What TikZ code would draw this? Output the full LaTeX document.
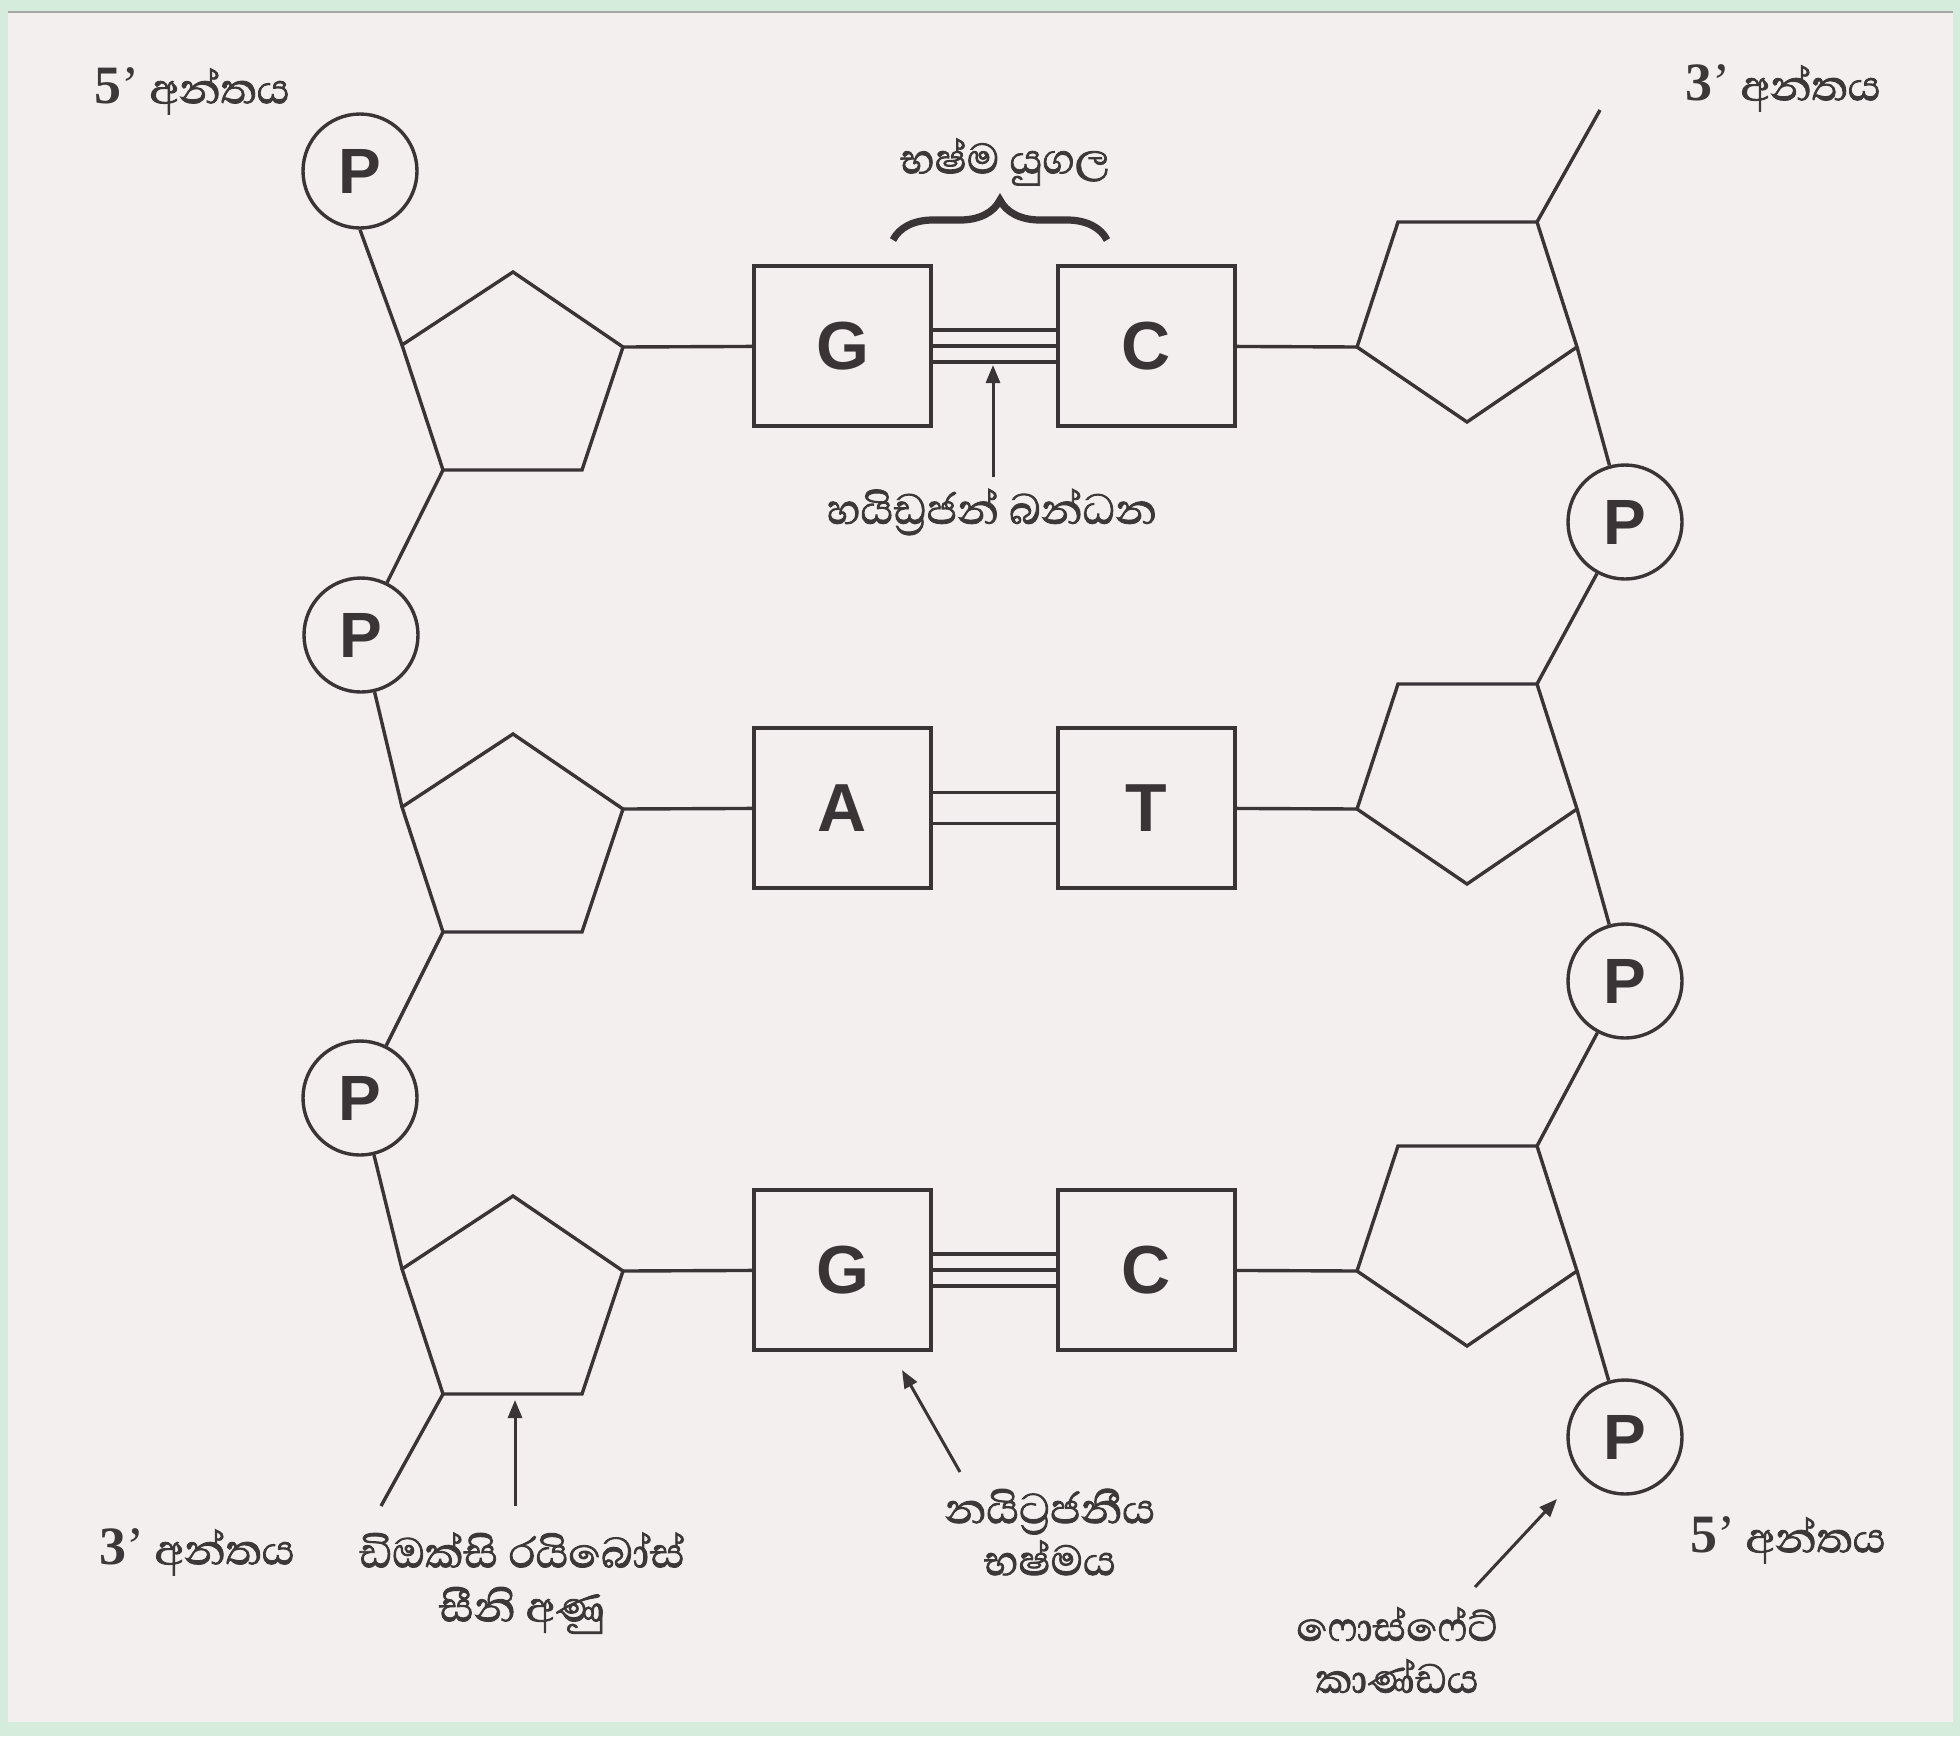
\documentclass[tikz,border=0pt]{standalone}
\usepackage{fontspec}
\setmainfont{Liberation Sans}
\newfontfamily\sinfont[Script=Sinhala, FakeBold=1.6]{Abhaya Libre}
\newfontfamily\numfont{Liberation Serif}
\usetikzlibrary{arrows.meta,decorations.pathreplacing}
\definecolor{ink}{HTML}{3A3436}
\definecolor{txt}{HTML}{3C3738}
\definecolor{paper}{HTML}{F3EFEF}
\definecolor{outer}{HTML}{D5EBDB}
\begin{document}
\begin{tikzpicture}[x=0.5pt,y=-0.5pt,
  bond/.style={line width=1.7pt, draw=ink},
  basebox/.style={draw=ink, line width=1.7pt, minimum width=88.5pt, minimum height=80pt, inner sep=0pt, font=\bfseries\fontsize{34}{34}\selectfont, text=ink},
  phos/.style={circle, draw=ink, line width=1.7pt, minimum size=57pt, inner sep=0pt, font=\bfseries\fontsize{32}{32}\selectfont, text=ink},
  lbl/.style={font=\sinfont\fontsize{27}{27}\selectfont, text=txt, align=center, inner sep=0pt},
  endlbl/.style={lbl},
  pointer/.style={draw=ink, line width=1.5pt, -{Triangle[length=9pt,width=7pt]}},
  hbond/.style={draw=ink, line width=1.6pt}]
\fill[outer] (0,0) rectangle (1960,1736);
\fill[paper] (8,12) rectangle (1953,1722);
\draw[black!35, line width=0.8pt] (8,12) -- (1953,12);
\useasboundingbox (0,0) rectangle (1960,1736);

% sugars
\foreach \r/\y in {1/346,2/808,3/1270}{
  \coordinate (LA\r) at (513,\y-74);
  \coordinate (LR\r) at (623,\y+1);
  \coordinate (LBR\r) at (582,\y+124);
  \coordinate (LBL\r) at (443,\y+124);
  \coordinate (LL\r) at (402,\y-1);
  \draw[bond, line join=miter] (LA\r) -- (LR\r) -- (LBR\r) -- (LBL\r) -- (LL\r) -- cycle;
  \coordinate (RTL\r) at (1398,\y-124);
  \coordinate (RTR\r) at (1537,\y-124);
  \coordinate (RR\r) at (1577,\y+1);
  \coordinate (RB\r) at (1467,\y+76);
  \coordinate (RL\r) at (1357,\y+1);
  \draw[bond, line join=miter] (RTL\r) -- (RTR\r) -- (RR\r) -- (RB\r) -- (RL\r) -- cycle;
}

% bases
\node[basebox] (G1) at (842.5,346) {G};
\node[basebox] (C1) at (1146.5,346) {C};
\node[basebox] (A2) at (842.5,808) {A};
\node[basebox] (T2) at (1146.5,808) {T};
\node[basebox] (G3) at (842.5,1270) {G};
\node[basebox] (C3) at (1146.5,1270) {C};

\draw[bond] (LR1) -- (G1);
\draw[bond] (C1) -- (RL1);
\draw[bond] (LR2) -- (A2);
\draw[bond] (T2) -- (RL2);
\draw[bond] (LR3) -- (G3);
\draw[bond] (C3) -- (RL3);

% hydrogen bonds
\foreach \s in {8pt,0pt,-8pt}{
  \draw[hbond] ([yshift=\s]G1.east) -- ([yshift=\s]C1.west);
  \draw[hbond] ([yshift=\s]G3.east) -- ([yshift=\s]C3.west);
}
\foreach \s in {7.75pt,-7.75pt}{
  \draw[hbond] ([yshift=\s]A2.east) -- ([yshift=\s]T2.west);
}

% phosphates
\node[phos] (PL1) at (360,171) {P};
\node[phos] (PL2) at (361,635) {P};
\node[phos] (PL3) at (360,1098) {P};
\node[phos] (PR1) at (1625,522) {P};
\node[phos] (PR2) at (1625,981) {P};
\node[phos] (PR3) at (1625,1437) {P};

% backbones
\coordinate (endL) at (381,1506);
\coordinate (endR) at (1600,110);
\draw[bond] (PL1.south) -- (LL1);
\draw[bond] (LBL1) -- (PL2);
\draw[bond] (PL2) -- (LL2);
\draw[bond] (LBL2) -- (PL3);
\draw[bond] (PL3) -- (LL3);
\draw[bond] (LBL3) -- (endL);
\draw[bond] (endR) -- (RTR1);
\draw[bond] (RR1) -- (PR1);
\draw[bond] (PR1) -- (RTR2);
\draw[bond] (RR2) -- (PR2);
\draw[bond] (PR2) -- (RTR3);
\draw[bond] (RR3) -- (PR3);

% end labels
\node[endlbl] (e5tl) at (192,91) {{\numfont\bfseries 5}{\numfont ’} අන්තය};
\node[endlbl] (e3tr) at (1783,88) {{\numfont\bfseries 3}{\numfont ’} අන්තය};
\node[endlbl] (e3bl) at (197,1552) {{\numfont\bfseries 3}{\numfont ’} අන්තය};
\node[endlbl] (e5br) at (1788,1540) {{\numfont\bfseries 5}{\numfont ’} අන්තය};

% base pair brace
\node[lbl] (bp) at (1005,162) {භෂ්ම යුගල};
\draw[ink, line width=3.6pt, decorate, decoration={brace, amplitude=20pt}] (893,240) -- (1107,240);

% hydrogen bond label
\node[lbl] (hbl) at (992,512) {හයිඩ්^^^^200dරජන් බන්ධන};
\coordinate (hbtail) at (993,477);
\coordinate (hbtip) at (993,365);
\draw[pointer] (hbtail) -- (hbtip);

% deoxyribose label
\node[lbl, font=\sinfont\fontsize{27}{27}\selectfont] (drl) at (522,1583) {ඩිඔක්සි රයිබෝස්\\සීනි අණු};
\coordinate (drtail) at (515,1506);
\coordinate (drtip) at (515,1400);
\draw[pointer] (drtail) -- (drtip);

% nitrogenous base label
\node[lbl, font=\sinfont\fontsize{27}{26}\selectfont] (nbl) at (1050,1532) {නයිට්^^^^200dරජනීය\\භෂ්මය};
\coordinate (nbtail) at (960,1472);
\coordinate (nbtip) at (902,1370);
\draw[pointer] (nbtail) -- (nbtip);

% phosphate label
\node[lbl, font=\sinfont\fontsize{26}{26}\selectfont] (phl) at (1397,1650) {ෆොස්ෆේට්\\කාණ්ඩය};
\coordinate (phtail) at (1475,1587);
\coordinate (phtip) at (1557,1499);
\draw[pointer] (phtail) -- (phtip);
\end{tikzpicture}
\end{document}
